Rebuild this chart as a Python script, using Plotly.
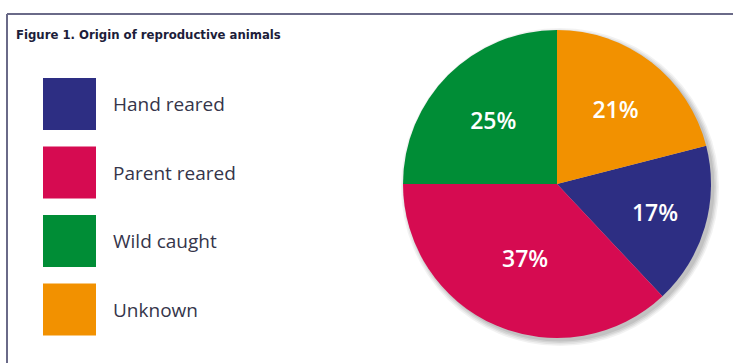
import plotly.graph_objects as go

W, H = 733, 363
title = "Figure 1. Origin of reproductive animals"
labels = ["Hand reared", "Parent reared", "Wild caught", "Unknown"]
values = [17, 37, 25, 21]
colors = ["#2d2e83", "#d60b51", "#008d36", "#f29100"]

# pie geometry (pixels)
cx, cy, R = 557, 184, 154
px = lambda x: x / W
py = lambda y: 1 - y / H

start = values[3] / sum(values) * 360  # Unknown sits from 12 o'clock

fig = go.Figure()
fig.add_trace(go.Pie(
    labels=labels, values=values, sort=False, direction="clockwise",
    rotation=start,
    marker=dict(colors=colors, line=dict(width=0)),
    textinfo="percent", texttemplate="%{percent:.0%}",
    textposition="inside", insidetextorientation="horizontal",
    textfont=dict(color="white", size=23, family="Open Sans", weight=600),
    domain=dict(x=[px(cx - R), px(cx + R)], y=[py(cy + R), py(cy - R)]),
    showlegend=False, hoverinfo="label+percent",
))

shapes = []
# soft shadow
for i, op in enumerate([0.05, 0.06, 0.07, 0.08]):
    r = R + 5 - i * 1.5
    ox, oy = 3, 3
    shapes.append(dict(type="circle", xref="paper", yref="paper",
                       x0=px(cx + ox - r), x1=px(cx + ox + r),
                       y0=py(cy + oy + r), y1=py(cy + oy - r),
                       fillcolor="black", opacity=op, line=dict(width=0), layer="below"))
# frame
shapes.append(dict(type="line", xref="paper", yref="paper", x0=px(7), x1=1.01, y0=py(14), y1=py(14),
                   line=dict(color="#6a6a88", width=2)))
shapes.append(dict(type="line", xref="paper", yref="paper", x0=px(7), x1=px(7), y0=py(14), y1=-0.01,
                   line=dict(color="#6a6a88", width=2)))

annotations = [dict(text="<b>" + title + "</b>", xref="paper", yref="paper", x=px(14), y=py(35),
                    xanchor="left", yanchor="middle", showarrow=False,
                    font=dict(family="DejaVu Sans Condensed, Liberation Sans Narrow, sans-serif",
                              size=13, color="#1d1d3a"))]

# custom legend
for i, (lab, col) in enumerate(zip(labels, colors)):
    top = 78 + i * 68.5
    shapes.append(dict(type="rect", xref="paper", yref="paper", x0=px(43), x1=px(96),
                       y0=py(top + 52), y1=py(top), fillcolor=col, line=dict(width=0)))
    annotations.append(dict(text=lab, xref="paper", yref="paper", x=px(111), y=py(top + 26),
                            xanchor="left", yanchor="middle", showarrow=False,
                            font=dict(family="Open Sans", size=19, color="#35354a")))

fig.update_layout(width=W, height=H, margin=dict(l=0, r=0, t=0, b=0),
                  paper_bgcolor="white", plot_bgcolor="white",
                  shapes=shapes, annotations=annotations)
fig.write_html("out.html")
